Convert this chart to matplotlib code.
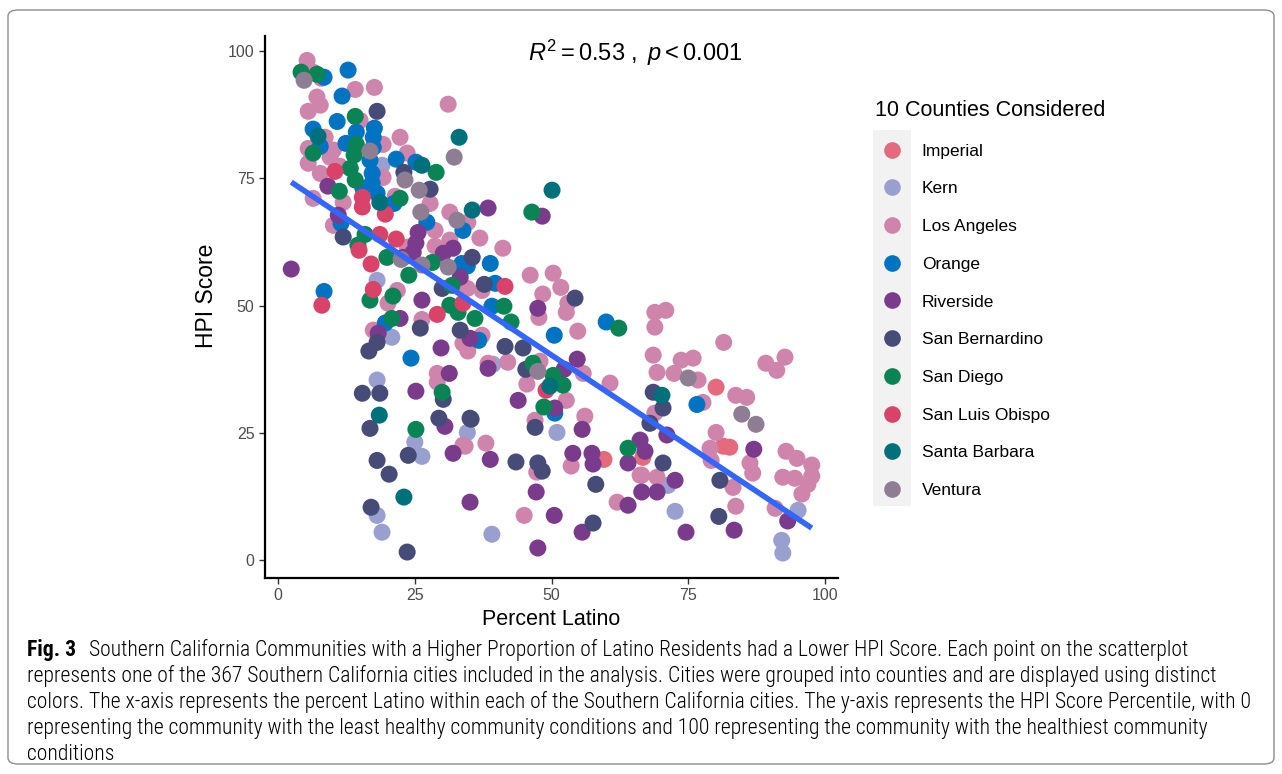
import matplotlib.pyplot as plt
import numpy as np
from matplotlib import font_manager
from matplotlib.patches import FancyBboxPatch
from matplotlib.lines import Line2D

plt.rcParams['font.family'] = ['Liberation Sans', 'DejaVu Sans']
plt.rcParams['mathtext.fontset'] = 'custom'
plt.rcParams['mathtext.rm'] = 'Liberation Sans'
plt.rcParams['mathtext.it'] = 'Liberation Sans:italic'

# percent latino / HPI score per county
imperial_x = [59.6, 66.7, 80.1, 81.4, 82.6]
imperial_y = [19.8, 20.2, 34.0, 22.4, 22.2]

kern_x = [19.0, 18.1, 20.8, 18.1, 25.0, 26.3, 34.6, 18.1, 19.0, 39.3, 51.0, 39.1, 71.3, 72.6, 95.1, 92.1, 92.3]
kern_y = [77.6, 55.0, 43.8, 35.4, 23.2, 20.4, 25.1, 8.8, 5.5, 38.5, 25.1, 5.1, 14.7, 9.6, 9.8, 3.9, 1.4]

la_x = [5.3, 6.4, 7.9, 14.1, 17.6, 7.1, 7.7, 5.5, 31.1, 22.3, 19.2, 23.6, 5.5, 5.5, 9.5, 7.7, 11.3,
        6.4, 11.9, 19.2, 21.4, 27.8, 31.4, 10.1, 28.7, 28.7, 31.4, 21.8, 20.1, 17.4, 26.3, 33.8,
        29.1, 33.8, 29.1, 36.9, 41.1, 34.7, 46.1, 50.3, 51.7, 48.4, 53.0, 52.7, 47.7, 54.8, 37.3,
        34.7, 37.3, 38.4, 42.0, 47.9, 55.8, 60.7, 68.9, 68.9, 68.6, 69.3, 45.5, 52.7, 56.1, 47.0,
        34.2, 38.0, 53.6, 47.3, 66.2, 69.3, 62.0, 45.0, 68.9, 70.9, 81.5, 73.7, 75.9, 72.4, 76.8,
        77.7, 83.7, 85.7, 89.2, 92.7, 91.2, 80.1, 79.0, 79.2, 86.3, 86.8, 83.2, 83.7, 90.9, 92.9,
        94.9, 97.6, 97.6, 92.3, 94.5, 96.9, 95.8, 66.5, 15.0, 8.6, 10.1, 23.6, 34.6]
la_y = [98.2, 95.9, 94.7, 92.5, 92.9, 91.0, 89.4, 88.2, 89.6, 83.1, 81.7, 80.0, 80.9, 78.0, 79.2, 76.0, 77.4,
        71.1, 70.3, 75.2, 71.5, 70.1, 68.4, 65.8, 64.8, 61.7, 62.9, 53.0, 50.5, 45.2, 47.3, 42.6,
        36.7, 22.6, 35.0, 63.3, 61.3, 66.4, 56.0, 56.4, 53.6, 52.3, 50.5, 48.7, 47.7, 45.0, 44.2,
        41.1, 53.0, 38.7, 38.9, 39.1, 36.7, 34.8, 48.7, 45.8, 40.3, 36.9, 34.6, 31.4, 28.3, 27.5,
        22.4, 23.0, 18.5, 17.3, 16.7, 16.3, 11.4, 8.8, 28.9, 49.1, 42.8, 39.3, 39.7, 36.7, 35.4,
        31.0, 32.4, 32.0, 38.7, 39.9, 37.3, 25.1, 22.0, 19.6, 19.1, 17.1, 14.3, 10.6, 10.2, 21.4,
        20.0, 18.7, 16.5, 16.3, 16.1, 14.9, 13.0, 16.7, 86.4, 83.1, 80.6, 61.5, 53.4]

orange_x = [12.8, 8.4, 11.7, 10.8, 6.4, 14.3, 17.6, 17.4, 7.7, 12.4, 17.4, 21.6, 25.2, 16.8, 17.2, 17.2,
            15.5, 18.1, 21.2, 11.5, 33.8, 33.6, 8.4, 19.6, 24.3, 38.8, 34.6, 39.7, 39.1, 36.7, 50.5,
            60.0, 50.6, 76.6, 27.2]
orange_y = [96.3, 94.9, 91.2, 86.2, 84.7, 84.1, 84.9, 83.1, 81.3, 81.9, 81.1, 78.8, 78.2, 78.6, 76.0, 74.1,
            73.1, 72.1, 70.1, 66.2, 64.8, 58.3, 52.8, 46.6, 39.7, 58.3, 57.8, 54.4, 49.9, 43.2, 44.2,
            46.8, 28.9, 30.6, 66.4]

riverside_x = [9.1, 11.0, 2.4, 25.6, 25.2, 24.7, 32.0, 30.2, 26.3, 22.3, 18.3, 29.8, 31.3, 25.2, 30.5,
               32.0, 35.1, 38.4, 48.3, 47.5, 33.3, 35.1, 38.4, 54.7, 52.3, 43.9, 50.6, 55.6, 38.8, 53.9,
               57.4, 57.6, 47.2, 50.5, 55.6, 47.5, 64.0, 66.5, 69.3, 64.0, 66.2, 67.1, 71.1, 72.6, 74.6,
               83.4, 87.0, 93.2, 22.9]
riverside_y = [73.5, 67.8, 57.2, 64.4, 62.3, 60.5, 61.3, 60.3, 51.1, 47.5, 44.6, 41.7, 36.7, 33.2, 26.3,
               21.0, 11.4, 69.2, 67.6, 49.5, 55.6, 43.6, 37.7, 39.5, 37.5, 31.4, 29.9, 25.7, 19.8, 21.0,
               21.0, 18.9, 13.4, 8.8, 5.5, 2.4, 10.8, 13.4, 13.4, 19.1, 23.6, 21.4, 24.6, 15.7, 5.5,
               5.9, 21.8, 7.7, 59.5]

sanbern_x = [18.1, 23.0, 27.8, 11.9, 30.0, 35.5, 37.7, 26.0, 33.3, 18.1, 16.6, 15.4, 18.6, 30.2, 29.4,
             16.8, 35.1, 18.1, 23.8, 20.3, 17.0, 23.6, 54.3, 41.5, 44.8, 45.3, 35.3, 43.5, 47.5, 48.3,
             47.0, 58.1, 57.6, 68.6, 70.4, 68.0, 70.4, 80.8, 80.6]
sanbern_y = [88.2, 76.2, 72.9, 63.5, 53.4, 59.5, 54.2, 45.6, 45.2, 42.8, 41.1, 32.8, 32.8, 31.6, 27.9,
             25.9, 27.9, 19.6, 20.6, 16.9, 10.4, 1.6, 51.5, 42.0, 41.7, 37.5, 27.7, 19.3, 19.1, 17.5,
             26.1, 14.9, 7.3, 33.0, 29.9, 26.9, 19.1, 15.7, 8.6]

sandiego_x = [4.2, 7.1, 14.1, 6.4, 14.3, 13.9, 13.2, 14.1, 11.2, 22.3, 28.9, 15.9, 14.6, 19.9, 23.9, 28.2,
              31.8, 16.8, 21.0, 20.8, 31.4, 32.9, 30.0, 25.2, 46.4, 41.3, 36.0, 42.6, 62.3, 46.6, 50.3,
              52.1, 48.6, 64.0]
sandiego_y = [95.9, 95.5, 87.2, 80.0, 81.7, 79.6, 77.0, 74.7, 72.5, 71.1, 76.2, 64.0, 61.9, 59.5, 56.0, 58.5,
              54.0, 51.1, 51.9, 47.5, 50.1, 48.7, 33.0, 25.7, 68.4, 49.9, 47.5, 46.8, 45.6, 38.7, 36.3,
              34.4, 30.1, 22.0]

slo_x = [10.4, 15.4, 15.4, 19.6, 18.6, 21.6, 14.8, 17.0, 17.4, 8.0, 29.1, 41.5, 33.8, 49.0]
slo_y = [76.4, 71.3, 69.4, 68.0, 64.0, 63.1, 60.9, 58.2, 53.2, 50.1, 48.3, 53.8, 50.5, 33.4]

sb_x = [7.3, 33.1, 26.3, 18.6, 35.5, 50.1, 18.5, 23.0, 49.7, 70.2]
sb_y = [83.3, 83.1, 77.6, 70.3, 68.8, 72.7, 28.5, 12.4, 34.2, 32.4]

ventura_x = [4.75, 16.8, 32.2, 23.2, 25.8, 26.1, 32.7, 22.5, 26.3, 31.1, 47.5, 75.0, 84.8, 87.4]
ventura_y = [94.3, 80.4, 79.2, 74.7, 72.7, 68.4, 66.8, 59.1, 58.0, 57.6, 37.1, 35.8, 28.7, 26.7]

# fitted linear trend (intercept, slope) as reported with the plot
fit_intercept = 76.0
fit_slope = -0.714

counties = ['Imperial', 'Kern', 'Los Angeles', 'Orange', 'Riverside', 'San Bernardino',
            'San Diego', 'San Luis Obispo', 'Santa Barbara', 'Ventura']
colors = ['#E56A7E', '#99A0CF', '#CF84AC', '#0073C2', '#7B3B8C', '#464B78',
          '#0A8454', '#D9436A', '#00707A', '#8E7D93']
xs = [imperial_x, kern_x, la_x, orange_x, riverside_x, sanbern_x, sandiego_x, slo_x, sb_x, ventura_x]
ys = [imperial_y, kern_y, la_y, orange_y, riverside_y, sanbern_y, sandiego_y, slo_y, sb_y, ventura_y]

fig = plt.figure(figsize=(12.82, 7.74), dpi=100)

# rounded frame around figure + caption
frame = FancyBboxPatch((8 / 1282, 10 / 774), 1266 / 1282, 754 / 774,
                       boxstyle='round,pad=0,rounding_size=0.008', transform=fig.transFigure,
                       facecolor='none', edgecolor='#8c8c8c', linewidth=1.0, zorder=-1)
fig.patches.append(frame)

ax = fig.add_axes([265 / 1282, 1 - 578 / 774, (838 - 265) / 1282, (578 - 36) / 774])
ax.set_facecolor('none')

for name, c, x, y in zip(counties, colors, xs, ys):
    ax.scatter(x, y, s=150, color=c, edgecolors='none', label=name, zorder=2)

# trend line across the observed range
all_x = np.concatenate([np.array(v) for v in xs])
fx = np.array([all_x.min(), all_x.max()])
ax.plot(fx, fit_intercept + fit_slope * fx, color='#3366FF', lw=4, zorder=3, solid_capstyle='butt')

ax.text(65.3, 99.6, r'$R^2 = 0.53\ ,\ p < 0.001$', ha='center', va='center', fontsize=17)

ax.set_xlim(-2.4, 102.4)
ax.set_ylim(-3.5, 103)
ax.set_xticks([0, 25, 50, 75, 100])
ax.set_yticks([0, 25, 50, 75, 100])
ax.tick_params(labelsize=11.5, labelcolor='#4d4d4d', color='#333333', length=4, width=1)
for s in ['top', 'right']:
    ax.spines[s].set_visible(False)
for s in ['left', 'bottom']:
    ax.spines[s].set_linewidth(1.6)
ax.set_xlabel('Percent Latino', fontsize=15.5, labelpad=4)
ax.set_ylabel('HPI Score', fontsize=16.5)
ax.yaxis.set_label_coords(-0.082, 0.52)

handles = [Line2D([], [], marker='o', ls='', markersize=12, markerfacecolor=c, markeredgecolor='none')
           for c in colors]
fig.patches.append(plt.Rectangle((873 / 1282, 1 - 506 / 774), 38 / 1282, 376 / 774,
                                 transform=fig.transFigure, facecolor='#f2f2f2', edgecolor='none', zorder=-1))
leg = fig.legend(handles, counties, loc='upper left', bbox_to_anchor=(868 / 1282, 1 - 93 / 774),
                 title='10 Counties Considered', title_fontsize=15.5, fontsize=12.5, frameon=False,
                 handletextpad=0.7, labelspacing=1.3, borderaxespad=0)
leg._legend_box.align = 'left'

# caption, in a narrow face if one is available
names = {f.name for f in font_manager.fontManager.ttflist}
cap_family = 'Liberation Sans'
for cand in ['Liberation Sans Narrow', 'Roboto Condensed', 'Open Sans Condensed', 'DejaVu Sans Condensed']:
    if cand in names:
        cap_family = cand
        break
cap_font = [cap_family, 'DejaVu Sans']

lines = [
    'Southern California Communities with a Higher Proportion of Latino Residents had a Lower HPI Score. Each point on the scatterplot',
    'represents one of the 367 Southern California cities included in the analysis. Cities were grouped into counties and are displayed using distinct',
    'colors. The x-axis represents the percent Latino within each of the Southern California cities. The y-axis represents the HPI Score Percentile, with 0',
    'representing the community with the least healthy community conditions and 100 representing the community with the healthiest community',
    'conditions',
]

# size the caption so the longest line spans the frame
renderer = fig.canvas.get_renderer()
probe = fig.text(0, 0, lines[2], fontsize=10, family=cap_font, fontweight='light')
w = probe.get_window_extent(renderer).width
probe.remove()
cap_size = 10 * (1249 - 27) / w

fig.text(27 / 1282, 1 - 650 / 774, 'Fig. 3', fontsize=cap_size, fontweight='bold', va='center', family=cap_font)
fig.text(89 / 1282, 1 - 650 / 774, lines[0], fontsize=cap_size, va='center', family=cap_font,
         fontweight='light')
for i, ln in enumerate(lines[1:]):
    fig.text(27 / 1282, 1 - (676 + 26.3 * i) / 774, ln, fontsize=cap_size, va='center', family=cap_font,
             fontweight='light')

fig.savefig('out.png', dpi=100)
